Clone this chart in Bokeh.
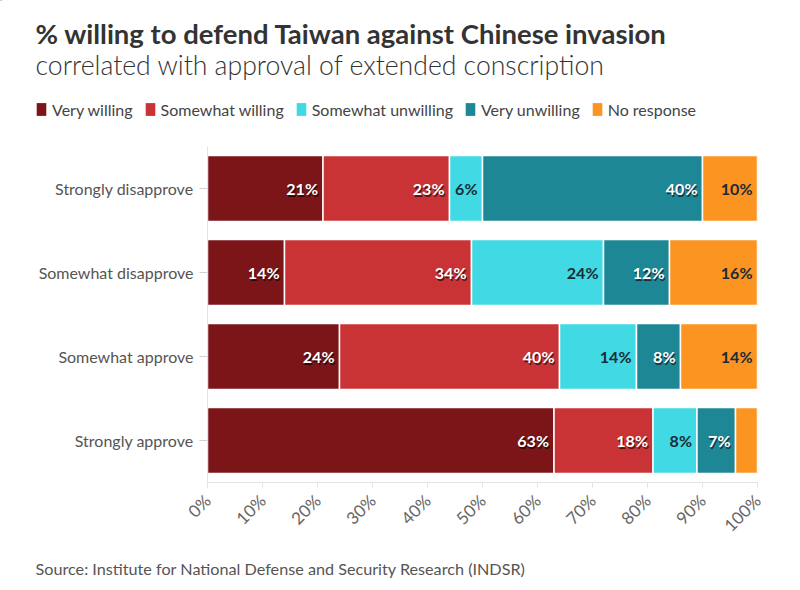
import numpy as np
from bokeh.plotting import figure
from bokeh.layouts import column
from bokeh.models import (ColumnDataSource, FactorRange, Range1d, FixedTicker,
                          PrintfTickFormatter, Legend, LegendItem)
from bokeh.core.properties import value
from bokeh.embed import file_html
from bokeh.resources import INLINE

# ---- data ----
rows = ["Strongly disapprove", "Somewhat disapprove", "Somewhat approve", "Strongly approve"]
series_names = ["Very willing", "Somewhat willing", "Somewhat unwilling", "Very unwilling", "No response"]
very_willing = [21, 14, 24, 63]
somewhat_willing = [23, 34, 40, 18]
somewhat_unwilling = [6, 24, 14, 8]
very_unwilling = [40, 12, 8, 7]
no_response = [10, 16, 14, 4]
ticks = [0, 10, 20, 30, 40, 50, 60, 70, 80, 90, 100]

title = "% willing to defend Taiwan against Chinese invasion"
subtitle = "correlated with approval of extended conscription"
source_note = "Source: Institute for National Defense and Security Research (INDSR)"

colors = ["#7b1518", "#c93336", "#40d9e4", "#1e8796", "#fb9420"]
label_colors = ["white", "white", "#1d2b36", "white", "#1d2b36"]

FONT = "Lato"
W = 784
H_HEAD, H_MAIN, H_FOOT = 140, 410, 30
FL, FR, FT, FB = 207, 757, 146, 482  # frame edges in page pixels


def blank(h):
    f = figure(width=W, height=h, output_backend="svg", toolbar_location=None,
               x_range=Range1d(0, W), y_range=Range1d(h, 0),
               min_border=0, min_border_left=0, min_border_right=0,
               min_border_top=0, min_border_bottom=0, frame_align=False)
    f.title.visible = False
    f.axis.visible = False
    f.grid.visible = False
    f.outline_line_color = None
    f.background_fill_color = "white"
    f.border_fill_color = "white"
    return f


# ---- header ----
head = blank(H_HEAD)
head.text(x=[35], y=[33], text=[title], text_font=value(FONT), text_font_style="bold",
          text_font_size="27.5px", text_color="#333333", text_baseline="middle")
head.text(x=[35], y=[64.5], text=[subtitle], text_font=value("Lato Light"),
          text_font_size="26.6px", text_color="#333333", text_baseline="middle")
dummy = []
for name, col in zip(series_names, colors):
    r = head.hbar(y=[-500], left=[0], right=[1], height=1, fill_color=col, line_color=None)
    dummy.append(LegendItem(label=name, renderers=[r]))
legend = Legend(items=dummy, orientation="horizontal", location=(35, H_HEAD - 118.5),
                glyph_width=12, glyph_height=16, label_standoff=5, spacing=11,
                padding=0, margin=0, border_line_color=None, background_fill_alpha=0,
                label_text_font=FONT, label_text_font_size="16px", label_text_color="#444444",
                label_height=16)
head.add_layout(legend, "center")

# ---- main chart ----
top0 = H_HEAD
p = figure(width=W, height=H_MAIN, output_backend="svg", toolbar_location=None,
           y_range=FactorRange(factors=list(reversed(rows)), range_padding=0),
           x_range=Range1d(0, 100), frame_align=False,
           min_border_left=FL, min_border_right=W - FR,
           min_border_top=FT - top0, min_border_bottom=top0 + H_MAIN - FB)
p.title.visible = False
p.outline_line_color = None
p.xgrid.visible = False
p.ygrid.visible = False
p.background_fill_color = "white"
p.border_fill_color = "white"

data = [very_willing, somewhat_willing, somewhat_unwilling, very_unwilling, no_response]
left = np.zeros(len(rows))
for name, vals, col, lcol in zip(series_names, data, colors, label_colors):
    vals = np.array(vals, dtype=float)
    right = left + vals
    src = ColumnDataSource(dict(y=rows, left=left.copy(), right=right.copy(),
                                val=vals, lab=[f"{int(v)}%" if v >= 5 else "" for v in vals]))
    p.hbar(y="y", left="left", right="right", height=0.786, source=src,
           fill_color=col, line_color="white", line_width=1.5)
    if lcol == "white":
        p.text(x="right", y="y", text="lab", source=src, x_offset=-4, y_offset=1.5,
               text_align="right", text_baseline="middle", text_color="#000000", text_alpha=0.6,
               text_font=value(FONT), text_font_style="bold", text_font_size="16px")
    p.text(x="right", y="y", text="lab", source=src, x_offset=-5, y_offset=0,
           text_align="right", text_baseline="middle", text_color=lcol,
           text_font=value(FONT), text_font_style="bold", text_font_size="16px")
    left = right

p.xaxis.ticker = FixedTicker(ticks=ticks)
p.xaxis.formatter = PrintfTickFormatter(format="%d%%")
p.xaxis.major_label_orientation = np.pi / 4
p.xaxis.axis_line_color = "#e3e3e3"
p.xaxis.major_tick_line_color = "#e3e3e3"
p.xaxis.major_tick_out = 5
p.xaxis.major_tick_in = 0
p.xaxis.minor_tick_line_color = None
p.xaxis.major_label_text_font = FONT
p.xaxis.major_label_text_font_size = "17px"
p.xaxis.major_label_text_color = "#666666"
p.xaxis.major_label_standoff = 10

p.yaxis.axis_line_color = "#e3e3e3"
p.yaxis.major_tick_line_color = "#d0d0d0"
p.yaxis.major_tick_out = 8
p.yaxis.major_tick_in = 0
p.yaxis.major_label_text_font = FONT
p.yaxis.major_label_text_font_size = "16px"
p.yaxis.major_label_text_color = "#555555"
p.yaxis.major_label_standoff = 6

# ---- footer ----
foot = blank(H_FOOT)
foot.text(x=[35], y=[567.8 - (H_HEAD + H_MAIN)], text=[source_note], text_font=value(FONT),
          text_font_size="16.2px", text_color="#555555", text_baseline="middle")

layout = column(head, p, foot, spacing=0)
open("out.html", "w").write(file_html(layout, INLINE))
